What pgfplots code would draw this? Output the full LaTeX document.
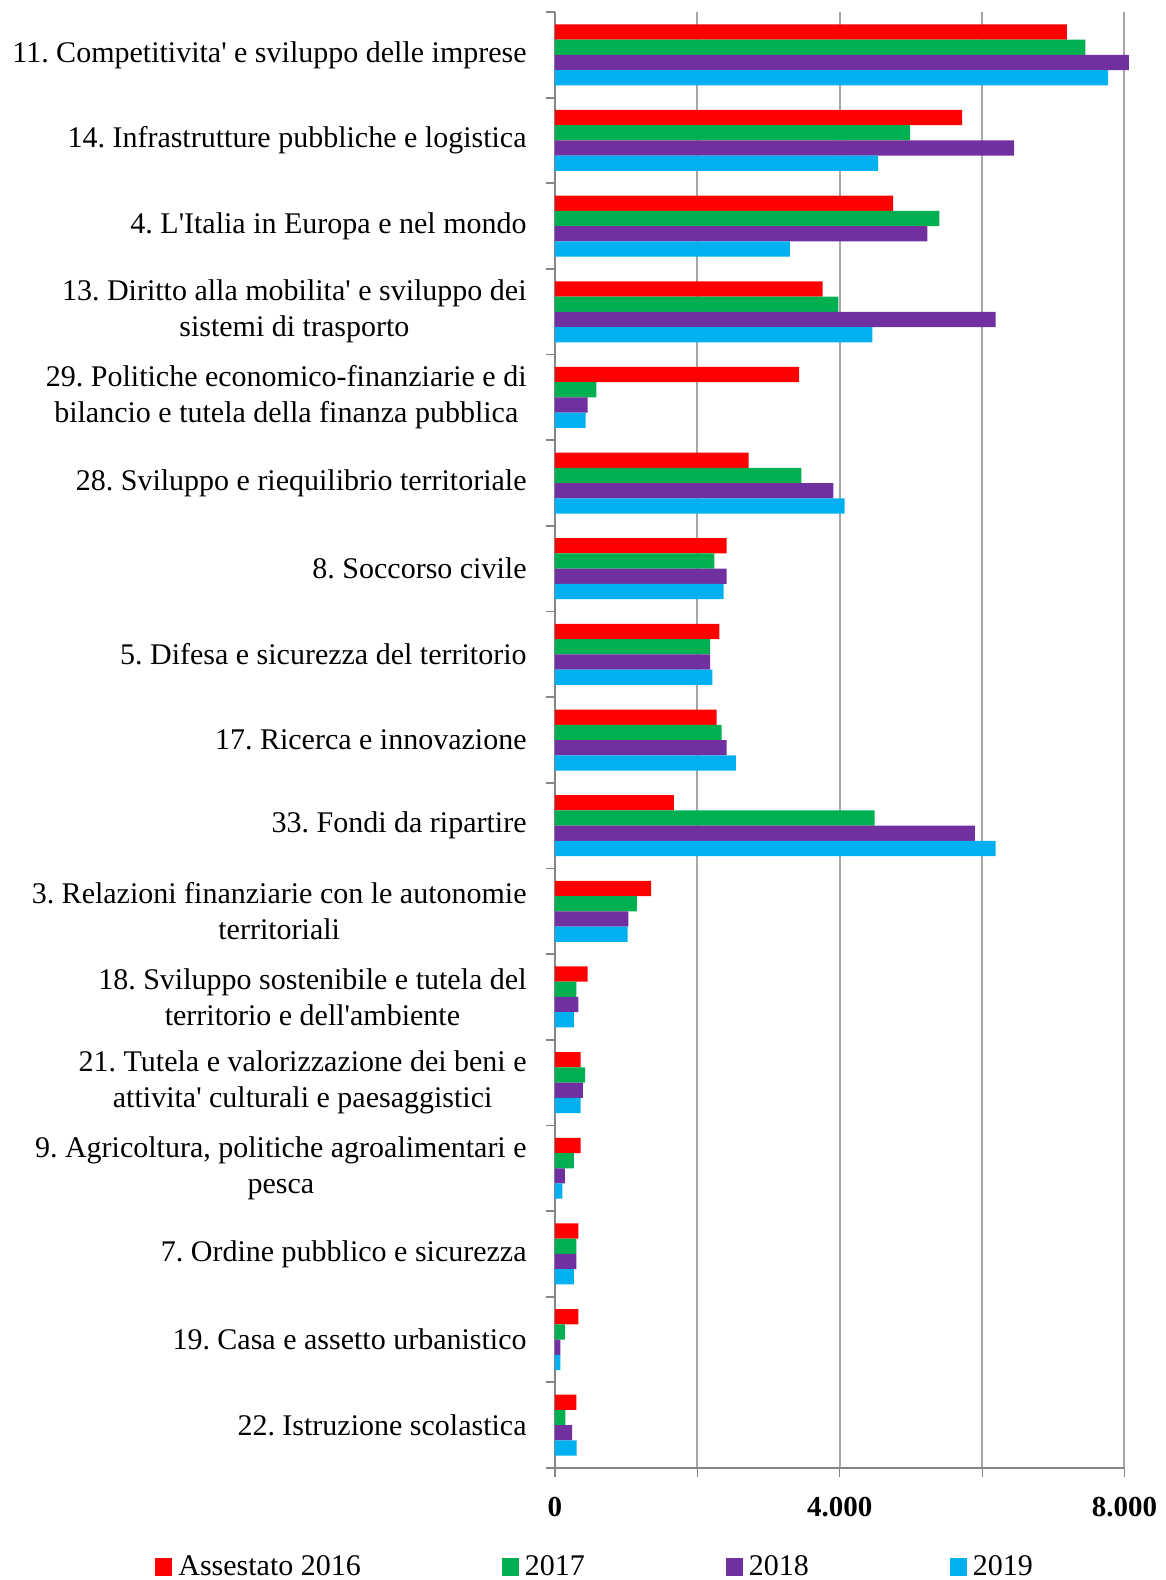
\documentclass[border=0pt]{standalone}
\usepackage{pgfplots}
\usepackage{pgfplotstable}
\pgfplotsset{compat=1.18}
\usepackage{fontspec}
\setmainfont{Liberation Serif}
\frenchspacing
\newcommand{\q}{\textquotesingle}
\definecolor{cRed}{HTML}{FF0000}
\definecolor{cGreen}{HTML}{00B050}
\definecolor{cPurple}{HTML}{7030A0}
\definecolor{cCyan}{HTML}{00B0F0}
\definecolor{gridc}{HTML}{A6A6A6}
\definecolor{axc}{HTML}{868686}

\pgfplotstableread{
idx r g p c
0 7190 7450 8060 7770
1 5720 4990 6450 4540
2 4750 5400 5230 3300
3 3760 3980 6190 4460
4 3430 580 460 430
5 2720 3460 3910 4070
6 2410 2240 2410 2370
7 2310 2180 2180 2210
8 2270 2340 2410 2540
9 1670 4490 5900 6190
10 1350 1150 1030 1020
11 460 300 330 265
12 360 425 390 360
13 360 265 140 105
14 330 300 300 265
15 330 140 75 75
16 300 145 240 305
}\data

\begin{document}
\begin{tikzpicture}
\begin{axis}[
  scale only axis,
  width=284.75pt, height=728pt,
  at={(0,0)}, anchor=south west,
  clip=false,
  xmin=0, xmax=8000,
  ymin=-0.5, ymax=16.5,
  y dir=reverse,
  axis x line*=bottom,
  axis y line*=left,
  axis line style={-},
  x axis line style={draw=axc, line width=0.6pt},
  y axis line style={draw=axc, line width=0.9pt},
  xtick={0,2000,4000,6000,8000},
  xticklabels={\textbf{0},,\textbf{4.000},,\textbf{8.000}},
  xmajorgrids,
  grid style={draw=gridc, line width=1pt},
  tick align=outside,
  major tick length=4.5pt,
  minor tick length=4.5pt,
  x tick style={draw=axc, line width=0.6pt},
  y tick style={draw=axc, line width=0.9pt},
  ytick={0,...,16},
  ytick style={draw=none},
  minor ytick={-0.5,0.5,...,16.5},
  minor y tick style={draw=axc, line width=0.9pt},
  yticklabels={
    {11. Competitivita\q{} e sviluppo delle imprese},
    {14. Infrastrutture pubbliche e logistica},
    {4. L\q{}Italia in Europa e nel mondo},
    {13. Diritto alla mobilita\q{} e sviluppo dei\\sistemi di trasporto},
    {29. Politiche economico-finanziarie e di\\bilancio e tutela della finanza pubblica},
    {28. Sviluppo e riequilibrio territoriale},
    {8. Soccorso civile},
    {5. Difesa e sicurezza del territorio},
    {17. Ricerca e innovazione},
    {33. Fondi da ripartire},
    {3. Relazioni finanziarie con le autonomie\\territoriali},
    {18. Sviluppo sostenibile e tutela del\\territorio e dell\q{}ambiente},
    {21. Tutela e valorizzazione dei beni e\\attivita\q{} culturali e paesaggistici},
    {9. Agricoltura, politiche agroalimentari e\\pesca},
    {7. Ordine pubblico e sicurezza},
    {19. Casa e assetto urbanistico},
    {22. Istruzione scolastica}},
  yticklabel style={align=center, anchor=east, inner sep=0pt, xshift=-9.5pt,
    font=\fontsize{15}{18}\selectfont},
  xticklabel style={inner sep=0pt, anchor=north, yshift=-10pt,
    font=\fontsize{14.5}{17}\selectfont},
  bar width=0.178,
  legend columns=4,
  legend style={draw=none, fill=none, inner sep=0pt,
    at={(-0.7024,-0.068)}, anchor=west,
    nodes={inner sep=0pt},
    font=\fontsize{15}{18}\selectfont,
    /tikz/every even column/.append style={column sep=70.5pt},
    /tikz/every odd column/.append style={column sep=3pt}},
  legend image code/.code={\fill[#1] (0pt,-4.5pt) rectangle (8.5pt,4.5pt);},
]
\addplot[xbar, fill=cRed, draw=none, bar shift=-0.267] table[x=r,y=idx]{\data};
\addplot[xbar, fill=cGreen, draw=none, bar shift=-0.089] table[x=g,y=idx]{\data};
\addplot[xbar, fill=cPurple, draw=none, bar shift=0.089] table[x=p,y=idx]{\data};
\addplot[xbar, fill=cCyan, draw=none, bar shift=0.267] table[x=c,y=idx]{\data};
\legend{Assestato 2016,2017,2018,2019}
\end{axis}
\pgfresetboundingbox
\path[use as bounding box] (-277.5pt,-56pt) rectangle (305.5pt,734pt);
\end{tikzpicture}
\end{document}
